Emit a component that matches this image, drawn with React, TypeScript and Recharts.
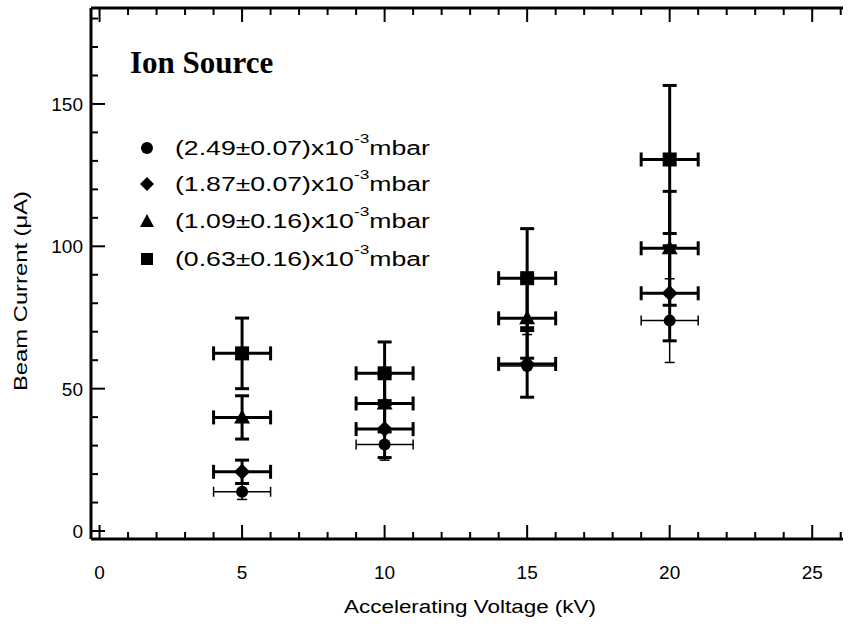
import React from 'react';
import { ScatterChart, Scatter, XAxis, YAxis, ErrorBar } from 'recharts';

// ---- data ----
const voltages = [5, 10, 15, 20];
const voltageErr = [1, 1, 1, 1];
const circleCurrent = [13.8, 30.4, 58.0, 73.9];
const circleErr = [2.7, 5.5, 11.0, 14.7];
const diamondCurrent = [20.8, 35.8, 58.7, 83.5];
const diamondErr = [4.1, 10.0, 11.7, 16.7];
const triangleCurrent = [39.9, 44.8, 74.7, 99.3];
const triangleErr = [7.6, 10.0, 14.0, 20.0];
const squareCurrent = [62.4, 55.4, 88.8, 130.5];
const squareErr = [12.4, 11.0, 17.4, 26.0];

const legendLabels = ['(2.49±0.07)x10', '(1.87±0.07)x10', '(1.09±0.16)x10', '(0.63±0.16)x10'];
const xTicks = Array.from({ length: 27 }, (_, i) => i);
const yTicks = Array.from({ length: 19 }, (_, i) => i * 10);
const xDomain: [number, number] = [-0.3, 26.08];
const yDomain: [number, number] = [-2.8, 183.7];

const build = (ys: number[], errs: number[]) =>
  voltages.map((v, i) => ({ x: v, y: ys[i], ex: voltageErr[i], ey: errs[i] }));

const circleData = build(circleCurrent, circleErr);
const diamondData = build(diamondCurrent, diamondErr);
const triangleData = build(triangleCurrent, triangleErr);
const squareData = build(squareCurrent, squareErr);

const FONT = '"Liberation Sans", Arial, Helvetica, sans-serif';

const BottomTick = (p: any) => {
  const { x, y, payload } = p;
  const v = payload.value;
  const major = v % 5 === 0;
  return (
    <g>
      <line x1={x} y1={y} x2={x} y2={y - (major ? 14 : 7)} stroke="#000" strokeWidth={2} />
      {major && (
        <text x={x} y={y + 40} textAnchor="middle" fontSize={19} fontFamily={FONT} fill="#000">
          {v}
        </text>
      )}
    </g>
  );
};
const TopTick = (p: any) => {
  const { x, y, payload } = p;
  const major = payload.value % 5 === 0;
  return <line x1={x} y1={y} x2={x} y2={y + (major ? 14 : 7)} stroke="#000" strokeWidth={2} />;
};
const LeftTick = (p: any) => {
  const { x, y, payload } = p;
  const v = payload.value;
  const major = v % 50 === 0;
  return (
    <g>
      <line x1={x} y1={y} x2={x + (major ? 14 : 7)} y2={y} stroke="#000" strokeWidth={2} />
      {major && (
        <text x={x - 8} y={y + 7} textAnchor="end" fontSize={19} fontFamily={FONT} fill="#000">
          {v}
        </text>
      )}
    </g>
  );
};
const RightTick = (p: any) => {
  const { x, y, payload } = p;
  const major = payload.value % 50 === 0;
  return <line x1={x} y1={y} x2={x - (major ? 14 : 7)} y2={y} stroke="#000" strokeWidth={2} />;
};

const CircleShape = (p: any) => <circle cx={p.cx} cy={p.cy} r={6} fill="#000" />;
const DiamondShape = (p: any) => (
  <polygon
    points={`${p.cx},${p.cy - 8} ${p.cx + 8},${p.cy} ${p.cx},${p.cy + 8} ${p.cx - 8},${p.cy}`}
    fill="#000"
  />
);
const TriangleShape = (p: any) => (
  <polygon points={`${p.cx},${p.cy - 8} ${p.cx + 8},${p.cy + 6} ${p.cx - 8},${p.cy + 6}`} fill="#000" />
);
const SquareShape = (p: any) => <rect x={p.cx - 7} y={p.cy - 7} width={14} height={14} fill="#000" />;
const NoShape = () => <g />;

const legendSymbols = [
  (cx: number, cy: number) => <circle cx={cx} cy={cy} r={6} fill="#000" />,
  (cx: number, cy: number) => (
    <polygon points={`${cx},${cy - 7} ${cx + 7},${cy} ${cx},${cy + 7} ${cx - 7},${cy}`} fill="#000" />
  ),
  (cx: number, cy: number) => (
    <polygon points={`${cx},${cy - 7} ${cx + 7},${cy + 6} ${cx - 7},${cy + 6}`} fill="#000" />
  ),
  (cx: number, cy: number) => <rect x={cx - 6} y={cy - 6} width={12} height={12} fill="#000" />,
];
const legendRowsY = [148, 184, 221, 259];

const axisLineStyle = { stroke: '#000', strokeWidth: 3 };

export default function App() {
  return (
    <div style={{ position: 'absolute', left: 0, top: 0, width: 848, height: 626, background: '#fff' }}>
      <ScatterChart width={848} height={626} margin={{ top: 7, right: 5, left: 0, bottom: 0 }}>
        <XAxis
          xAxisId="b"
          type="number"
          dataKey="x"
          orientation="bottom"
          domain={xDomain}
          allowDataOverflow
          ticks={xTicks}
          interval={0}
          height={87}
          tickSize={0}
          tickMargin={0}
          tickLine={false}
          axisLine={axisLineStyle}
          tick={<BottomTick />}
        />
        <XAxis
          xAxisId="t"
          type="number"
          dataKey="x"
          orientation="top"
          domain={xDomain}
          allowDataOverflow
          ticks={xTicks}
          interval={0}
          height={1}
          tickSize={0}
          tickMargin={0}
          tickLine={false}
          axisLine={axisLineStyle}
          tick={<TopTick />}
        />
        <YAxis
          yAxisId="l"
          type="number"
          dataKey="y"
          orientation="left"
          domain={yDomain}
          allowDataOverflow
          ticks={yTicks}
          interval={0}
          width={91}
          tickSize={0}
          tickMargin={0}
          tickLine={false}
          axisLine={axisLineStyle}
          tick={<LeftTick />}
        />
        <YAxis
          yAxisId="r"
          type="number"
          dataKey="y"
          orientation="right"
          domain={yDomain}
          allowDataOverflow
          ticks={yTicks}
          interval={0}
          width={0}
          tickSize={0}
          tickMargin={0}
          tickLine={false}
          axisLine={axisLineStyle}
          tick={<RightTick />}
        />
        <Scatter xAxisId="t" yAxisId="r" data={squareData} shape={<NoShape />} isAnimationActive={false} />
        <Scatter xAxisId="b" yAxisId="l" data={circleData} shape={<CircleShape />} isAnimationActive={false}>
          <ErrorBar dataKey="ex" direction="x" width={5} stroke="#000" strokeWidth={1.5} isAnimationActive={false} />
          <ErrorBar dataKey="ey" direction="y" width={5} stroke="#000" strokeWidth={1.5} isAnimationActive={false} />
        </Scatter>
        <Scatter xAxisId="b" yAxisId="l" data={diamondData} shape={<DiamondShape />} isAnimationActive={false}>
          <ErrorBar dataKey="ex" direction="x" width={7} stroke="#000" strokeWidth={3} isAnimationActive={false} />
          <ErrorBar dataKey="ey" direction="y" width={7} stroke="#000" strokeWidth={3} isAnimationActive={false} />
        </Scatter>
        <Scatter xAxisId="b" yAxisId="l" data={triangleData} shape={<TriangleShape />} isAnimationActive={false}>
          <ErrorBar dataKey="ex" direction="x" width={7} stroke="#000" strokeWidth={3} isAnimationActive={false} />
          <ErrorBar dataKey="ey" direction="y" width={7} stroke="#000" strokeWidth={3} isAnimationActive={false} />
        </Scatter>
        <Scatter xAxisId="b" yAxisId="l" data={squareData} shape={<SquareShape />} isAnimationActive={false}>
          <ErrorBar dataKey="ex" direction="x" width={7} stroke="#000" strokeWidth={3} isAnimationActive={false} />
          <ErrorBar dataKey="ey" direction="y" width={7} stroke="#000" strokeWidth={3} isAnimationActive={false} />
        </Scatter>
      </ScatterChart>
      <svg
        width={848}
        height={626}
        style={{ position: 'absolute', left: 0, top: 0, pointerEvents: 'none' }}
      >
        <text x={130} y={73} fontSize={31} fontWeight="bold" fontFamily='"Liberation Serif", "Times New Roman", serif' fill="#000">
          Ion Source
        </text>
        {legendLabels.map((lab, i) => (
          <g key={lab}>
            {legendSymbols[i](147, legendRowsY[i])}
            <text
              x={175}
              y={legendRowsY[i] + 7}
              fontSize={20}
              fontFamily={FONT}
              fill="#000"
              textLength={255}
              lengthAdjust="spacingAndGlyphs"
            >
              {lab}
              <tspan fontSize={13} dy={-12}>-3</tspan>
              <tspan dy={12}>mbar</tspan>
            </text>
          </g>
        ))}
        <text
          x={470}
          y={613}
          textAnchor="middle"
          fontSize={18}
          fontFamily={FONT}
          fill="#000"
          textLength={252}
          lengthAdjust="spacingAndGlyphs"
        >
          Accelerating Voltage (kV)
        </text>
        <text
          x={0}
          y={0}
          transform="translate(27, 291) rotate(-90)"
          textAnchor="middle"
          fontSize={18}
          fontFamily={FONT}
          fill="#000"
          textLength={200}
          lengthAdjust="spacingAndGlyphs"
        >
          Beam Current (μA)
        </text>
      </svg>
    </div>
  );
}
